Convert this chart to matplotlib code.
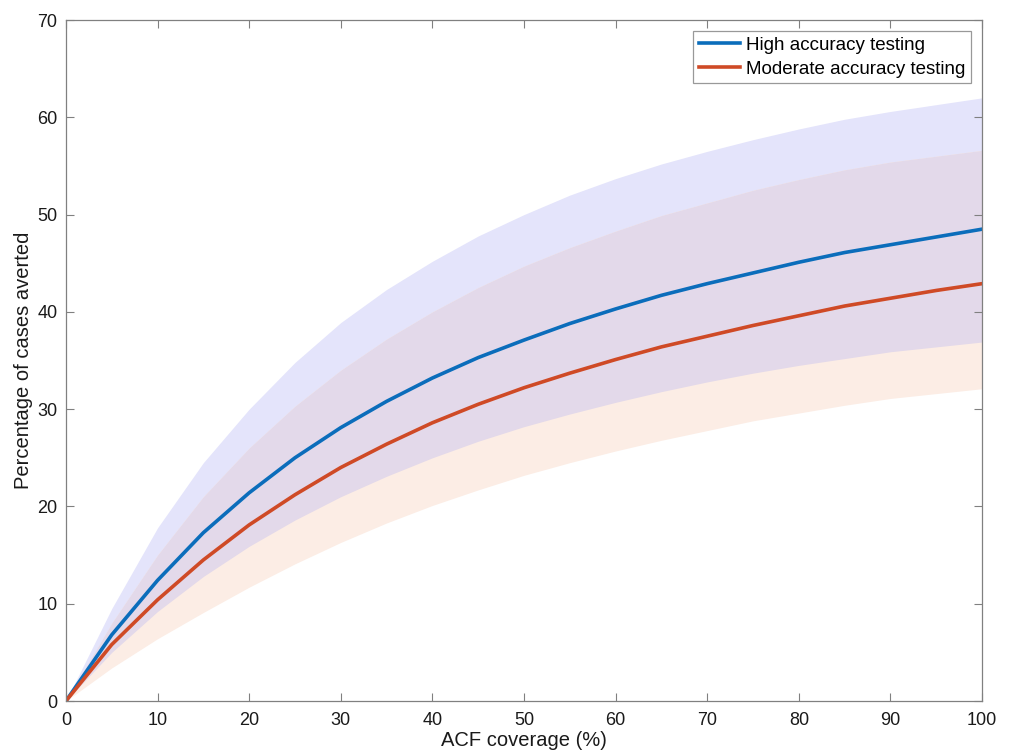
import numpy as np
import matplotlib.pyplot as plt

plt.rcParams['font.family'] = ['Liberation Sans', 'DejaVu Sans']

coverage = np.arange(0, 101, 5)

# central estimates
high_acc = [0, 6.8, 12.4, 17.3, 21.4, 25.0, 28.1, 30.8, 33.2, 35.3, 37.1,
            38.8, 40.3, 41.7, 42.9, 44.0, 45.1, 46.1, 46.9, 47.7, 48.5]
mod_acc = [0, 5.8, 10.4, 14.5, 18.1, 21.2, 24.0, 26.4, 28.6, 30.5, 32.2,
           33.7, 35.1, 36.4, 37.5, 38.6, 39.6, 40.6, 41.4, 42.2, 42.9]

# uncertainty bands
high_lo = [0, 5.0, 9.2, 12.8, 15.9, 18.6, 21.0, 23.1, 25.0, 26.7, 28.2,
           29.5, 30.7, 31.8, 32.8, 33.7, 34.5, 35.2, 35.9, 36.4, 36.9]
high_hi = [0, 9.5, 17.8, 24.5, 30.0, 34.8, 38.9, 42.3, 45.2, 47.8, 50.0,
           52.0, 53.7, 55.2, 56.5, 57.7, 58.8, 59.8, 60.6, 61.3, 62.0]
mod_lo = [0, 3.4, 6.4, 9.1, 11.7, 14.1, 16.3, 18.3, 20.1, 21.7, 23.2,
          24.5, 25.7, 26.8, 27.8, 28.8, 29.6, 30.4, 31.1, 31.6, 32.1]
mod_hi = [0, 8.0, 15.0, 21.0, 26.0, 30.3, 34.0, 37.2, 40.0, 42.5, 44.7,
          46.6, 48.3, 49.9, 51.2, 52.5, 53.6, 54.6, 55.4, 56.0, 56.6]

fig = plt.figure(figsize=(10.14, 7.55), dpi=100)
ax = fig.add_axes([0.065, 0.0715, 0.9035, 0.902])

ax.fill_between(coverage, high_lo, high_hi, color='#e4e4fb', lw=0)
ax.fill_between(coverage, mod_lo, mod_hi, color='#fcede5', lw=0)
ov_lo = np.maximum(high_lo, mod_lo)
ov_hi = np.minimum(high_hi, mod_hi)
ax.fill_between(coverage, ov_lo, ov_hi, color='#e3d9ea', lw=0)

ax.plot(coverage, high_acc, color='#0b6dbb', lw=2.6, label='High accuracy testing')
ax.plot(coverage, mod_acc, color='#cf4a26', lw=2.6, label='Moderate accuracy testing')

ax.set_xlim(0, 100)
ax.set_ylim(0, 70)
ax.set_xticks(np.arange(0, 101, 10))
ax.set_yticks(np.arange(0, 71, 10))
ax.tick_params(direction='in', top=True, right=True, length=6, width=0.8,
               color='#808080', labelsize=13, labelcolor='#1a1a1a', pad=6)
ax.tick_params(axis='x', pad=8)
for s in ax.spines.values():
    s.set_color('#808080')
    s.set_linewidth(0.9)

ax.set_xlabel('ACF coverage (%)', fontsize=14.5, labelpad=1, color='#1a1a1a')
ax.set_ylabel('Percentage of cases averted', fontsize=14.5, labelpad=3, color='#1a1a1a')

leg = ax.legend(loc='upper right', fontsize=13.5, frameon=True, fancybox=False,
                edgecolor='#808080', handlelength=2.2, borderpad=0.3,
                labelspacing=0.35, handletextpad=0.3, borderaxespad=0.6)
leg.get_frame().set_linewidth(0.9)

fig.savefig('out.png', dpi=100)
